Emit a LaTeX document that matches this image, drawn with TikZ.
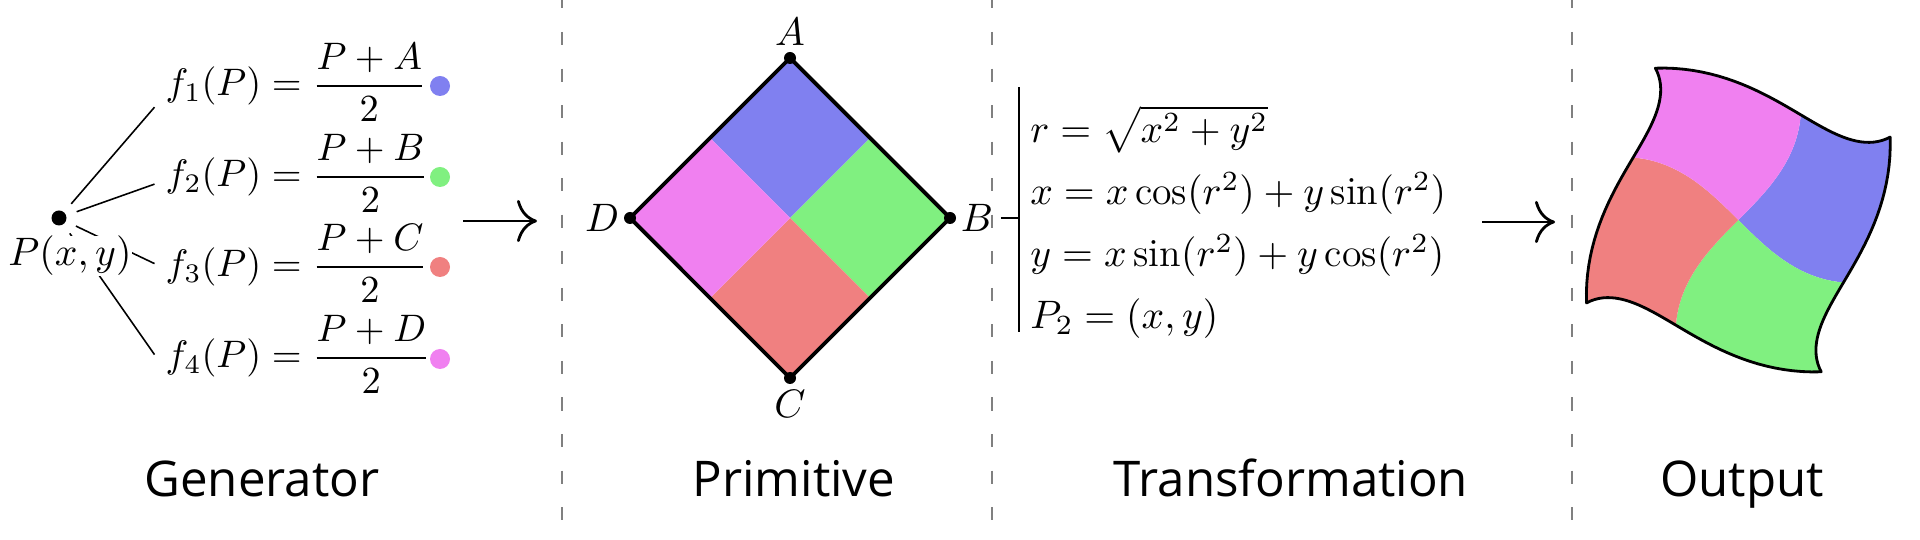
\RequirePackage{fix-cm}
\documentclass[tikz,border=0pt]{standalone}
\usepackage{amsmath}
\usepackage{fontspec}
\setsansfont{Open Sans}
\usetikzlibrary{positioning,calc,arrows.meta}

\definecolor{qblue}{RGB}{128,128,240}
\definecolor{qgreen}{RGB}{128,240,128}
\definecolor{qred}{RGB}{240,128,128}
\definecolor{qpink}{RGB}{240,128,240}

\tikzset{
	vdot/.style={circle,fill=black,inner sep=0pt,minimum size=0.12cm},
	gdot/.style={circle,fill=black,inner sep=0pt,minimum size=0.15cm},
	cdot/.style={circle,inner sep=0pt,minimum size=0.2cm},
	fmap/.style={anchor=west,inner xsep=3pt,font=\fontsize{10.9}{13}\selectfont},
	eqs/.style={anchor=north west,align=left,inner xsep=3pt,inner ysep=0pt,font=\fontsize{11.3}{17.6}\selectfont},
	seclabel/.style={anchor=base,font=\sffamily\fontsize{14}{17}\selectfont},
	sepline/.style={gray,line width=0.6pt,dash pattern=on 3.7pt off 6.7pt,dash phase=1.3pt},
	bigarrow/.style={line width=0.8pt,-{Computer Modern Rightarrow[length=5.7pt,width=12pt]}},
	barline/.style={line width=0.8pt},
	warp/.style n args={4}{insert path={plot[variable=\t,domain=0:1,samples=40]
		({wx((#1)+\t*((#3)-(#1)),(#2)+\t*((#4)-(#2)))},{wy((#1)+\t*((#3)-(#1)),(#2)+\t*((#4)-(#2)))})}},
	warpto/.style n args={4}{insert path={-- plot[variable=\t,domain=0:1,samples=40]
		({wx((#1)+\t*((#3)-(#1)),(#2)+\t*((#4)-(#2)))},{wy((#1)+\t*((#3)-(#1)),(#2)+\t*((#4)-(#2)))})}},
}

\begin{document}
\begin{tikzpicture}[font=\fontsize{11.3}{13.6}\selectfont,
		declare function={tw(\pu,\pv)=28.648*(\pu*\pu+\pv*\pv);
			wx(\pu,\pv)=\pu*sin(tw(\pu,\pv))+\pv*cos(tw(\pu,\pv));
			wy(\pu,\pv)=-\pu*cos(tw(\pu,\pv))+\pv*sin(tw(\pu,\pv));}]
	\useasboundingbox (0,0) rectangle (19.2,5.4);
	% separators
	\draw[sepline] (5.62,5.4) -- (5.62,0);
	\draw[sepline] (9.92,5.4) -- (9.92,0);
	\draw[sepline] (15.72,5.4) -- (15.72,0);

	% generator
	\node[gdot] (gen) at (0.59,3.22) {};
	\node[fmap] (f1) at (1.545,4.574) {$f_1(P) = \dfrac{P+A}{2}$};
	\node[fmap] (f2) at (1.545,3.664) {$f_2(P) = \dfrac{P+B}{2}$};
	\node[fmap] (f3) at (1.545,2.764) {$f_3(P) = \dfrac{P+C}{2}$};
	\node[fmap] (f4) at (1.545,1.854) {$f_4(P) = \dfrac{P+D}{2}$};
	\draw[line width=0.45pt,shorten <=3pt] (gen) -- ([yshift=-7pt]f1.west);
	\draw[line width=0.45pt,shorten <=3pt] (gen) -- ([yshift=-3pt]f2.west);
	\draw[line width=0.45pt,shorten <=3pt] (gen) -- (f3.west);
	\draw[line width=0.45pt,shorten <=3pt] (gen) -- (f4.west);
	\node[fill=white,inner sep=0pt] (plab) at (0.70,2.84) {$P(x,y)$};
	\node[cdot,fill=qblue] (c1) at (4.40,4.54) {};
	\node[cdot,fill=qgreen] (c2) at (4.40,3.63) {};
	\node[cdot,fill=qred] (c3) at (4.40,2.73) {};
	\node[cdot,fill=qpink] (c4) at (4.40,1.81) {};
	\coordinate (a1s) at (4.63,3.19);
	\coordinate (a1e) at (5.37,3.19);
	\draw[bigarrow] (a1s) -- (a1e);

	% primitive
	\coordinate (O) at (7.90,3.22);
	\coordinate (A) at (7.90,4.82);
	\coordinate (B) at (9.50,3.22);
	\coordinate (C) at (7.90,1.62);
	\coordinate (D) at (6.30,3.22);
	\fill[qblue] (A) -- ($(A)!.5!(B)$) -- (O) -- ($(A)!.5!(D)$) -- cycle;
	\fill[qgreen] (B) -- ($(B)!.5!(C)$) -- (O) -- ($(B)!.5!(A)$) -- cycle;
	\fill[qred] (C) -- ($(C)!.5!(D)$) -- (O) -- ($(C)!.5!(B)$) -- cycle;
	\fill[qpink] (D) -- ($(D)!.5!(A)$) -- (O) -- ($(D)!.5!(C)$) -- cycle;
	\draw[line width=1.1pt,line join=round] (A) -- (B) -- (C) -- (D) -- cycle;
	\node[vdot] (pA) at (A) {};
	\node[vdot] (pB) at (B) {};
	\node[vdot] (pC) at (C) {};
	\node[vdot] (pD) at (D) {};
	\node[above=0pt of pA,inner sep=1.5pt] (lA) {$A$};
	\node[right=0pt of pB,inner sep=1pt] (lB) {$B$};
	\node[below=0pt of pC,inner sep=1.5pt] (lC) {$C$};
	\node[left=0pt of pD,inner sep=1pt] (lD) {$D$};

	% transformation
	\node[eqs] (eqs) at (10.19,4.35) {$r = \sqrt{x^2+y^2}$\\
		$x = x\cos(r^2)+y\sin(r^2)$\\
		$y = x\sin(r^2)+y\cos(r^2)$\\
		$P_2 = (x,y)$};
	\draw[barline] ([yshift=5pt]eqs.north west) -- ([yshift=2pt]eqs.south west);
	\draw[barline] ([xshift=1pt]lB.east) -- (lB.east -| eqs.west);
	\coordinate (a2s) at (14.82,3.18);
	\coordinate (a2e) at (15.55,3.18);
	\draw[bigarrow] (a2s) -- (a2e);

	% output
	\begin{scope}[shift={(17.383,3.20)},scale=1.73]
		\fill[qblue,warp={0}{1}{0.5}{0.5}] [warpto={0.5}{0.5}{0}{0}] [warpto={0}{0}{-0.5}{0.5}] [warpto={-0.5}{0.5}{0}{1}] -- cycle;
		\fill[qgreen,warp={1}{0}{0.5}{-0.5}] [warpto={0.5}{-0.5}{0}{0}] [warpto={0}{0}{0.5}{0.5}] [warpto={0.5}{0.5}{1}{0}] -- cycle;
		\fill[qred,warp={0}{-1}{-0.5}{-0.5}] [warpto={-0.5}{-0.5}{0}{0}] [warpto={0}{0}{0.5}{-0.5}] [warpto={0.5}{-0.5}{0}{-1}] -- cycle;
		\fill[qpink,warp={-1}{0}{-0.5}{0.5}] [warpto={-0.5}{0.5}{0}{0}] [warpto={0}{0}{-0.5}{-0.5}] [warpto={-0.5}{-0.5}{-1}{0}] -- cycle;
		\draw[line width=0.8pt,line join=round,warp={0}{1}{1}{0}] [warpto={1}{0}{0}{-1}] [warpto={0}{-1}{-1}{0}] [warpto={-1}{0}{0}{1}] -- cycle;
	\end{scope}

	% section titles
	\node[seclabel] (tgen) at (2.62,0.43) {Generator};
	\node[seclabel] (tprim) at (7.94,0.43) {Primitive};
	\node[seclabel] (ttrans) at (12.91,0.43) {Transformation};
	\node[seclabel] (tout) at (17.42,0.43) {Output};
\end{tikzpicture}
\end{document}
